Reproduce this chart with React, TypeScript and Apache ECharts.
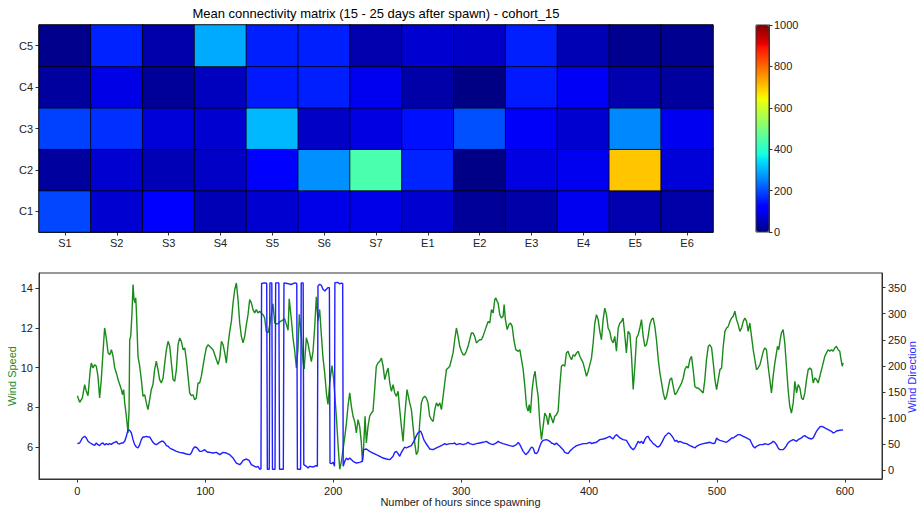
import React, { useEffect, useRef } from 'react';
import * as echarts from 'echarts';

const FONT = '"Liberation Sans", Arial, sans-serif';

// ---------- Heatmap data ----------
const sourceLabels = ['S1', 'S2', 'S3', 'S4', 'S5', 'S6', 'S7', 'E1', 'E2', 'E3', 'E4', 'E5', 'E6'];
const cohortLabels = ['C1', 'C2', 'C3', 'C4', 'C5'];
const rowC1 = [195, 70, 115, 48, 70, 90, 90, 70, 22, 35, 97, 40, 35];
const rowC2 = [27, 70, 48, 62, 115, 266, 440, 160, 7, 84, 97, 700, 77];
const rowC3 = [188, 172, 77, 70, 305, 62, 84, 141, 203, 106, 70, 258, 97];
const rowC4 = [27, 88, 22, 55, 150, 155, 97, 35, 4, 150, 103, 40, 27];
const rowC5 = [12, 158, 37, 292, 155, 155, 40, 70, 62, 155, 45, 14, 14];
const heatRows = [rowC1, rowC2, rowC3, rowC4, rowC5];
const colorbarMin = 0;
const colorbarMax = 1000;

// ---------- Wind data: [hour since spawning, value] ----------
const windSpeed: [number, number][] = [
  [0, 8.59], [1.8, 8.26], [3.9, 8.48], [5.7, 9.15], [7, 8.81], [8.3, 8.59], [10.1, 9.9], [10.9, 10.23], [12.2, 9.98], [13.5, 10.15],
  [14.8, 10.07], [16.1, 9.56], [17.4, 8.48], [18.7, 9.4], [20, 10.74], [21.3, 11.99], [22.6, 11.49], [24, 10.74], [25.3, 10.65], [26.6, 10.9],
  [27.9, 10.57], [29.2, 9.98], [30.5, 9.73], [31.8, 9.4], [33.1, 9.15], [34.4, 8.9], [35.2, 8.64], [36.2, 8.9], [37, 8.23], [38.3, 7.56],
  [39.6, 6.72], [40.4, 7.89], [40.9, 11.4], [41.7, 11.57], [42.7, 12.74], [43.5, 14.17], [44.3, 13.41], [45.1, 13.25], [45.6, 13.5], [46.1, 12.91],
  [47.4, 10.57], [48.7, 10.07], [50, 9.4], [51.3, 8.56], [52.6, 8.64], [53.9, 8.23], [55.2, 7.89], [56.5, 8.39], [57.8, 8.9], [59.1, 9.15],
  [60.4, 9.9], [61.7, 10.32], [63, 9.9], [64.3, 9.4], [65.6, 9.23], [67, 9.48], [68.3, 10.23], [69.6, 10.9], [70.9, 11.32], [72.2, 11.07],
  [73.5, 10.23], [74.8, 9.4], [76.1, 9.31], [77.4, 9.9], [78.7, 11.15], [80, 11.49], [81.3, 11.32], [82.6, 10.9], [83.9, 10.99], [85.2, 10.4],
  [86.5, 9.56], [87.8, 8.73], [89.1, 8.59], [90.4, 8.64], [91.7, 8.39], [93, 8.48], [94.3, 9.23], [95.6, 9.23], [96.9, 9.56], [98.2, 10.07],
  [99.5, 10.57], [100.8, 10.99], [102.1, 11.15],
  [103.4, 11.07], [106, 10.9], [107.4, 10.65], [108.7, 10.4], [110, 10.15], [111.3, 10.48], [112.6, 11.32], [113.9, 11.15], [115.2, 10.74], [116.5, 10.23],
  [117.8, 11.15], [119.1, 11.82], [120.4, 12.32], [121.7, 13.25], [123, 13.91], [124.3, 14.25], [125.6, 13.41], [126.9, 12.24], [128.2, 11.57], [129.5, 11.24],
  [130.8, 11.57], [132.1, 12.16], [133.4, 12.66], [134.7, 13.41], [136, 13.25], [137.3, 12.91], [138.6, 12.74], [139.9, 12.91], [141.2, 12.74], [142.5, 12.83],
  [143.8, 12.74], [145.1, 12.66], [146.4, 12.5], [147.7, 11.8], [149, 11.75], [150.4, 12.16], [151.7, 12.7], [152.9, 13.2], [154.3, 12.24], [155.6, 12.2],
  [156.9, 12.2], [158.2, 12.3], [159.5, 12.35], [160.8, 12.4], [162.1, 12.45], [163.4, 12.16], [164.7, 11.88], [165.6, 13.45], [167.3, 12.41], [168.6, 11.45],
  [169.9, 10.85], [171.2, 9.98], [172.5, 11.0], [173.5, 12.68], [175.1, 11.57], [176.4, 10.3], [177.3, 9.93], [179, 11.5], [180.3, 11.2], [181.6, 10.75],
  [182.9, 10.3], [184.2, 10.8], [185.5, 12.0], [186.8, 13.55], [188.1, 12.35], [189.4, 12.92], [190.7, 11.67], [192, 10.5], [193.4, 9.7], [194.7, 8.7],
  [195.9, 8.15], [197.3, 9.25], [199, 10.1], [200.2, 9.5], [201.2, 8.66], [202.5, 7.5], [203.8, 6.1], [205.1, 4.9], [206.4, 5.3], [207.7, 5.9],
  [209, 6.5], [210.3, 7.2], [211.6, 8.1],
  [212.9, 8.73], [214.2, 8.06], [215.5, 7.56], [216.8, 7.3], [218.1, 6.72], [219.4, 7.39], [220.7, 7.05], [222, 6.22], [222.8, 5.3], [223.8, 6.05],
  [224.9, 7.56], [225.9, 6.22], [227.2, 7.05], [228.5, 7.56], [229.8, 7.72], [231.1, 7.81], [232.4, 8.9], [233.7, 10.07], [235, 10.23], [236.4, 10.32],
  [237.7, 10.48], [239, 10.07], [240.3, 9.4], [241.6, 9.73], [242.9, 9.98], [244.2, 9.23], [245.5, 8.81], [246.8, 9.15], [248.1, 8.73], [249.4, 8.56],
  [250.7, 8.81], [252, 7.89], [253.3, 7.05], [254.6, 6.3], [255.9, 7.56], [257.2, 8.56], [257.7, 8.9], [258.5, 8.64], [259.8, 8.23], [261.1, 7.89],
  [262.4, 7.05], [263.7, 6.22], [265, 5.63], [266.3, 5.8], [267.6, 7.22], [268.9, 8.23], [270.2, 8.48], [271.5, 8.56], [272.8, 8.48], [274.1, 8.23],
  [275.4, 7.56], [276.8, 7.39], [278.1, 7.3], [279.4, 7.89], [280.7, 8.23], [282, 8.06], [283.3, 8.23], [284.6, 7.89], [285.9, 8.56], [287.2, 9.23],
  [288.5, 9.9], [289.8, 9.98], [291.1, 10.07], [292.4, 10.4], [293.7, 10.74], [295, 11.4], [296.3, 11.99], [297.6, 11.57], [298.9, 11.07], [300.2, 10.82],
  [301.5, 10.65], [302.8, 10.65], [304.1, 10.82], [305.4, 11.07], [306.7, 11.4], [308, 11.74], [309.3, 11.74], [310.6, 11.57], [311.9, 11.24], [313.2, 11.32],
  [314.5, 11.4], [315.8, 11.4], [317.1, 11.57], [318.4, 11.82], [319.7, 12.07], [321.1, 12.32], [322.4, 12.24], [323.7, 12.91], [325, 12.74],
  [326.3, 13.41], [327.1, 13.5], [328.1, 13.33], [328.9, 13.25], [330.2, 12.66], [331.5, 12.49], [332.8, 12.58], [333.6, 13.16], [334.6, 12.41], [336, 11.91],
  [337.3, 12.16], [338.6, 12.24], [339.9, 12.07], [341.2, 11.4], [342.7, 10.9], [344.6, 10.82], [345.9, 10.9], [347.2, 10.4], [348.5, 9.9], [349.8, 9.06],
  [351.1, 8.06], [352.4, 7.81], [353.2, 8.14], [354.2, 7.72], [355.5, 8.9], [356.8, 9.56], [357.8, 9.82], [358.9, 9.14], [360.2, 8.56], [361.5, 7.22],
  [362.8, 6.39], [364.1, 7.05], [365.4, 7.72], [366.7, 7.56], [368, 7.14], [369.3, 7.72], [370.6, 7.47], [371.9, 7.22], [373.2, 7.56], [374.5, 7.64],
  [375.8, 7.81], [377.1, 9.06], [378.4, 10.07], [379.7, 10.15], [381, 10.07], [382.3, 10.74], [383.6, 10.82], [384.9, 10.57], [386.3, 10.4], [387.6, 10.65],
  [388.9, 10.57], [390.2, 10.74], [391.5, 10.82], [392.8, 10.57], [394.1, 10.4], [395.4, 10.23], [396.7, 9.9], [398, 9.56], [399.3, 9.82], [400.6, 10.15],
  [401.9, 10.48], [403.2, 11.24], [404.5, 12.24], [405.8, 12.66], [407.1, 12.41], [408.4, 11.82], [409.7, 11.4], [411, 12.41], [412.3, 12.99], [413.6, 12.66],
  [414.9, 11.99], [416.2, 11.82], [417.5, 11.4], [418.8, 11.24], [420.1, 11.57], [421.4, 10.82], [422.8, 11.99], [424.1, 12.24], [425.4, 12.32], [426.6, 12.49],
  [427.9, 11.65], [429.2, 10.74], [430.5, 11.82], [431.9, 11.7],
  [433.2, 10.57], [434.5, 8.9], [435.8, 10.07], [437.1, 11.49], [438.4, 11.65], [439.7, 11.99], [441, 12.41], [442.3, 11.57], [443.6, 11.07], [444.9, 11.15],
  [446.2, 11.57], [447.5, 12.16], [448.8, 12.41], [450.1, 12.49], [451.4, 12.07], [452.7, 11.4], [454.1, 10.4], [455.4, 9.73], [456.7, 9.23], [458, 8.73],
  [459.3, 8.39], [460.6, 8.56], [461.9, 8.98], [463.2, 9.4], [464.5, 9.48], [465.8, 9.06], [467.1, 8.64], [468.4, 8.73], [469.7, 8.9], [471, 9.06],
  [472.3, 9.23], [473.6, 9.48], [474.9, 9.9], [476.2, 10.07], [477.5, 9.98], [478.8, 10.4], [480.1, 10.57], [481.4, 9.9], [482.7, 9.06], [484, 8.98],
  [485.3, 8.98], [486.6, 8.9], [487.9, 8.81], [489.2, 8.73], [490.5, 9.4], [491.8, 10.4], [493.2, 11.07], [494.4, 11.15], [495.8, 10.99], [497.1, 10.23],
  [498.4, 9.4], [499.7, 8.9], [501, 9.4], [502.3, 9.9], [503.6, 9.98], [504.9, 11.07], [506.2, 11.82], [507.5, 11.99], [508.8, 12.07], [510.1, 12.32],
  [511.4, 12.49], [512.7, 12.58], [514, 12.83], [515.3, 12.41], [516.6, 12.16], [517.9, 11.82], [519.2, 11.99], [520.5, 12.32], [521.8, 12.49], [523.1, 12.32],
  [524.4, 11.82], [525.7, 12.24], [527, 11.57], [528.3, 10.9], [529.6, 10.4], [530.9, 9.9], [532.2, 9.98], [533.6, 10.15], [534.9, 10.48], [536.2, 10.82],
  [537.4, 10.99], [538.7, 10.9], [540, 10.07], [541.3, 9.4], [542.6, 8.73], [543.9, 9.56], [545.2, 10.23], [546.5, 10.74], [547.3, 11.07], [548.3, 10.9],
  [549.4, 11.4], [550.4, 11.74], [551.7, 11.91], [553, 11.24], [554.3, 10.07], [555.6, 8.9], [556.9, 8.06], [558.2, 7.72], [559.6, 8.23], [560.9, 9.31],
  [562.2, 8.73], [563.5, 9.15], [564.8, 8.98], [566.1, 8.48], [567.4, 8.39], [568.7, 8.73], [570, 9.4], [571.3, 9.9], [572.6, 9.98], [573.9, 9.9],
  [575.2, 9.23], [576.5, 9.48], [577.8, 9.4], [579.1, 9.23], [580.4, 9.56], [581.7, 9.9], [583, 10.23], [584.3, 10.57], [585.6, 10.74], [586.9, 10.9],
  [588.2, 10.82], [589.5, 10.9], [590.8, 10.82], [592.1, 10.99], [593.4, 11.07], [594.7, 10.9], [596, 10.82], [596.8, 10.48], [597.9, 10.07], [598.6, 10.23],
];

const windDirection: [number, number][] = [
  [0, 51.1], [1.8, 52.4], [3.9, 62], [5.7, 65.2], [7, 62], [8.3, 55.6], [10.1, 52.4], [12.2, 49.2], [13.5, 47.9], [14.8, 52.4],
  [16.1, 49.2], [17.4, 47.3], [18.7, 51.1], [20, 52.4], [21.3, 48.6], [22.6, 51.1], [24, 49.2], [25.3, 51.1], [26.6, 49.8], [27.9, 52.4],
  [29.2, 53.7], [30.5, 55.6], [31.8, 51.1], [33.1, 50.5], [34.4, 52.4], [35.7, 52.4], [37, 55.6], [38.3, 65.2], [39.6, 78], [40.9, 76.7],
  [42.2, 71.6], [43.5, 58.8], [44.8, 49.2], [46.1, 44.7], [47.4, 42.8], [48.7, 49.2], [50, 58.8], [51.3, 63.9], [52.6, 63.9], [53.9, 65.2],
  [55.2, 63.9], [56.5, 63.9], [57.8, 58.8], [59.1, 53.7], [60.4, 50.5], [61.7, 49.2], [63, 51.1], [64.3, 53.7], [65.6, 55.6], [67, 55.6],
  [68.3, 52.4], [69.6, 47.3], [70.9, 46], [72.2, 42.8], [73.5, 40.9], [74.8, 39.6], [77.4, 36.4], [80, 34.5], [82.6, 33.2], [85.2, 31.3],
  [87.8, 30], [89.1, 33.2], [90.4, 40.9], [91.7, 44.7], [93, 44.1], [94.3, 40.9], [95.6, 36.4], [96.9, 36.4], [98.2, 37.7], [99.5, 39.6],
  [100.8, 36.4], [102.1, 34.5],
  [103.4, 34.5], [106, 33.2], [108.7, 34.5], [111.3, 30], [113.9, 34.5], [116.5, 33.2], [119.1, 30], [121.7, 23.6], [124.3, 14], [126.9, 10.8],
  [128.2, 14], [129.5, 19.1], [132.1, 21.7], [134.2, 19.1], [136, 10.8], [138.6, 7.6], [139.9, 6.3], [141.2, 7.6], [142.5, 2.5], [143.5, 2.5],
  [144, 358], [146, 359], [148, 358.5], [148.5, 2], [150, 2], [150.5, 359], [152, 359], [152.5, 2], [154.5, 2], [155, 359],
  [157.5, 359], [158, 2], [161, 2], [161.5, 359], [164, 358], [167, 356], [170, 359], [171.5, 358], [172, 2], [174.5, 2],
  [175, 359], [176.5, 359], [177, 10.8], [179, 7.6], [180.3, 4.4], [181.6, 7.6], [184.2, 6.3], [186.3, 8.9], [187.6, 7.6], [188.1, 353],
  [189.4, 356.4], [190.7, 354.5], [192, 346.8], [193.4, 343.6], [194.7, 346.8], [196, 350], [197, 350], [197.5, 14], [198.6, 12.7], [200, 15.3],
  [201, 8], [201.3, 359.6], [203.8, 360], [205.1, 357], [206.4, 358.5], [207.4, 358], [207.8, 7.6], [209, 17.2], [210.3, 23.6], [211.6, 20.5],
  [212.9, 23.6], [215.5, 17.2], [218.1, 14], [220.7, 15.3], [222.8, 17.2], [223.3, 28], [223.8, 39.6], [225.9, 40.9], [228.5, 36.4], [231.1, 33.2],
  [233.7, 30], [236.4, 26.8], [239, 23.6], [241.6, 21.7], [244.2, 20.5], [245.5, 23.6], [246.8, 26.8], [248.1, 34.5], [249.4, 36.4], [250.7, 31.9],
  [252, 26.8], [253.3, 34.5], [254.6, 39.6], [255.9, 44.7], [257.2, 42.8], [258.5, 44.7], [259.8, 46], [261.1, 47.3], [262.4, 52.4], [263.7, 58.8],
  [265, 66.5], [266.3, 71.6], [267.6, 74.8], [268.4, 74.8], [269.5, 68.4], [270.8, 58.8], [272.3, 52.4], [274.1, 46], [275.4, 40.9], [278.1, 39.6],
  [280.7, 42.8], [283.3, 46], [285.9, 49.2], [287.2, 51.1], [288.5, 49.2], [291.1, 51.1], [293.7, 51.1], [295, 52.4], [296.3, 49.2], [298.9, 51.1],
  [301.5, 49.2], [304.1, 51.1], [305.4, 53.7], [306.7, 51.1], [309.3, 49.2], [311.9, 51.1], [314.5, 52.4], [317.1, 53.7], [319.7, 55.6], [322.4, 51.1],
  [325, 49.2], [327.6, 52.4], [328.9, 55.6], [330.2, 53.7], [332.8, 51.1], [335.4, 49.2], [338, 47.3], [340.6, 46], [343.2, 49.2], [344.6, 53.7],
  [345.9, 49.2], [347.2, 42.8], [348.5, 36.4], [350.5, 30], [352.4, 34.5], [353.7, 39.6], [355, 44.7], [356.3, 42.8], [357.6, 33.2], [358.9, 31.9],
  [360.2, 36.4], [361.5, 46], [362.8, 53.7], [364.1, 57.5], [366.7, 58.8], [368, 57.5], [369.3, 55.6], [370.6, 52.4], [371.9, 51.1], [373.2, 49.2],
  [374.5, 52.4], [375.8, 49.2], [377.1, 46], [378.4, 42.8], [379.7, 39.6], [381, 34.5], [383.6, 31.9], [384.9, 36.4], [387.6, 42.8], [390.2, 47.3],
  [392.8, 49.2], [395.4, 51.1], [398, 51.1], [400.6, 53.7], [401.9, 51.1], [403.2, 52.4], [405.8, 53.7], [408.4, 58.8], [411, 60.1], [413.6, 62],
  [416.2, 65.2], [417.5, 62], [418.8, 60.1], [420.1, 65.2], [421.4, 68.4], [422.8, 65.2], [424.1, 62], [426.6, 58.8], [429.2, 57.5], [430.5, 52],
  [432.5, 44], [434.5, 39.6], [435.8, 42.8], [437.1, 49.2], [438.4, 55.6], [439.7, 52.4], [441, 55.6], [442.3, 51.1], [443.6, 58.8], [444.9, 63.9],
  [446.2, 65.2], [447.5, 58.8], [448.8, 55.6], [450.1, 51.1], [451.4, 49.2], [452.7, 46], [454.1, 44.7], [455.4, 47.3], [456.7, 52.4], [458, 58.8],
  [459.3, 65.2], [460.6, 68.4], [461.9, 71.6], [463.2, 70.3], [464.5, 66.5], [465.8, 62], [467.1, 55.6], [468.4, 57.5], [469.7, 53.7], [471, 55.6],
  [473.6, 52.4], [476.2, 51.1], [478.8, 47.3], [481.4, 44.7], [482.7, 42.8], [484, 46], [486.6, 49.2], [489.2, 51.1], [491.8, 52.4], [494.4, 53.7],
  [497.1, 51.1], [498.4, 52.4], [499.7, 62], [501, 58.8], [502.3, 57.5], [504.9, 55.6], [507.5, 53.7], [510.1, 58.8], [511.4, 62], [512.7, 62],
  [515.3, 66.5], [516.6, 68.4], [517.9, 68.4], [520.5, 65.2], [523.1, 62], [524.4, 60.1], [525.7, 58.8], [527, 52.4], [528.3, 46], [529.6, 42.8],
  [530.9, 46], [533.6, 49.2], [536.2, 49.2], [537.4, 51.1], [540, 49.2], [542.6, 52.4], [543.9, 55.6], [545.2, 53.7], [546.5, 49.2], [547.8, 42.8],
  [549.1, 39.6], [551.7, 39.6], [553, 42.8], [554.3, 47.3], [555.6, 52.4], [556.9, 55.6], [559.6, 58.8], [560.9, 57.5], [562.2, 55.6], [563.5, 58.8],
  [566.1, 62], [567.4, 65.2], [568.7, 66.5], [570, 63.9], [571.3, 62], [573.9, 60.1], [575.2, 62], [576.5, 68.4], [577.8, 74.8], [579.1, 79.3],
  [580.4, 83.1], [581.7, 84.4], [583, 83.1], [584.3, 81.2], [586.9, 78], [589.5, 74.8], [590.8, 71.6], [592.1, 72.9], [593.4, 75.4], [596, 76.7],
  [598.6, 77.4],
];

const hoursMin = -30;
const hoursMax = 629;
const speedMin = 4.41;
const speedMax = 14.75;
const dirMin = -16.6;
const dirMax = 378;

// jet colormap (matplotlib segment definition)
function seg(t: number, pts: number[][]) {
  for (let i = 1; i < pts.length; i++) {
    if (t <= pts[i][0]) {
      const [x0, y0] = pts[i - 1];
      const [x1, y1] = pts[i];
      return y0 + ((t - x0) / (x1 - x0)) * (y1 - y0);
    }
  }
  return pts[pts.length - 1][1];
}
function jet(t: number) {
  const r = seg(t, [[0, 0], [0.35, 0], [0.66, 1], [0.89, 1], [1, 0.5]]);
  const g = seg(t, [[0, 0], [0.125, 0], [0.375, 1], [0.64, 1], [0.91, 0], [1, 0]]);
  const b = seg(t, [[0, 0.5], [0.11, 1], [0.34, 1], [0.65, 0], [1, 0]]);
  const h = (v: number) => Math.round(v * 255).toString(16).padStart(2, '0');
  return '#' + h(r) + h(g) + h(b);
}
const jetColors: string[] = [];
for (let i = 0; i <= 200; i++) jetColors.push(jet(i / 200));

const AX = '#333';
const TXT = '#222';

export default function App() {
  const ref = useRef<HTMLDivElement>(null);
  useEffect(() => {
    const chart = echarts.init(ref.current!, null, { renderer: 'svg' });
    const heatData: number[][] = [];
    heatRows.forEach((row, r) => row.forEach((v, c) => heatData.push([c, r, v])));

    const labelStyle = { color: TXT, fontSize: 11, fontFamily: FONT };
    const tickStyle = { show: true, length: 3.5, lineStyle: { color: AX, width: 1 } };
    const lineStyleAx = { show: true, onZero: false, lineStyle: { color: AX } };
    const plain = (v: number) => String(v);

    chart.setOption({
      animation: false,
      backgroundColor: '#fff',
      textStyle: { fontFamily: FONT },
      grid: [
        { left: 39, top: 25, width: 674, height: 207, show: true, borderColor: AX, borderWidth: 1, backgroundColor: 'transparent' },
        { left: 756, top: 25, width: 13, height: 207, show: true, borderColor: AX, borderWidth: 1, backgroundColor: 'transparent', z: 5 },
        { left: 39, top: 273, width: 843, height: 206, show: true, borderColor: AX, borderWidth: 1, backgroundColor: 'transparent' },
      ],
      xAxis: [
        {
          type: 'category', gridIndex: 0, data: sourceLabels,
          axisLine: lineStyleAx,
          axisTick: { ...tickStyle, alignWithLabel: true },
          axisLabel: { ...labelStyle, margin: 5 },
          splitLine: { show: false },
        },
        { type: 'value', gridIndex: 1, show: false, min: 0, max: 1 },
        {
          type: 'value', gridIndex: 2, min: hoursMin, max: hoursMax, splitNumber: 5,
          axisLine: lineStyleAx,
          axisTick: tickStyle,
          axisLabel: { ...labelStyle, margin: 6, showMinLabel: false, showMaxLabel: false, formatter: plain },
          splitLine: { show: false },
        },
      ],
      yAxis: [
        {
          type: 'category', gridIndex: 0, data: cohortLabels,
          axisLine: lineStyleAx,
          axisTick: { ...tickStyle, alignWithLabel: true },
          axisLabel: { ...labelStyle, margin: 6 },
          splitLine: { show: false },
        },
        {
          type: 'value', gridIndex: 1, position: 'right', min: colorbarMin, max: colorbarMax, interval: 200,
          axisLine: lineStyleAx,
          axisTick: tickStyle,
          axisLabel: { ...labelStyle, margin: 5, formatter: plain },
          splitLine: { show: false },
        },
        {
          type: 'value', gridIndex: 2, position: 'left', min: speedMin, max: speedMax, splitNumber: 5,
          axisLine: lineStyleAx,
          axisTick: tickStyle,
          axisLabel: { ...labelStyle, margin: 6, showMinLabel: false, showMaxLabel: false, formatter: plain },
          splitLine: { show: false },
        },
        {
          type: 'value', gridIndex: 2, position: 'right', min: dirMin, max: dirMax, splitNumber: 8,
          axisLine: lineStyleAx,
          axisTick: tickStyle,
          axisLabel: { ...labelStyle, margin: 6, showMinLabel: false, showMaxLabel: false, formatter: plain },
          splitLine: { show: false },
        },
      ],
      visualMap: {
        type: 'continuous', seriesIndex: 0, min: colorbarMin, max: colorbarMax,
        calculable: false, orient: 'vertical', left: 756, top: 25, itemWidth: 13, itemHeight: 207,
        padding: 0, text: null, showLabel: false, hoverLink: false,
        inRange: { color: jetColors },
      },
      graphic: [
        {
          type: 'text', x: 376, y: 13,
          style: { text: 'Mean connectivity matrix (15 - 25 days after spawn) - cohort_15', fontSize: 13, fontFamily: FONT, fill: '#000', align: 'center', verticalAlign: 'middle' },
        },
        {
          type: 'text', x: 460.5, y: 502,
          style: { text: 'Number of hours since spawning', fontSize: 11, fontFamily: FONT, fill: TXT, align: 'center', verticalAlign: 'middle' },
        },
        {
          type: 'text', x: 12, y: 376, rotation: Math.PI / 2,
          style: { text: 'Wind Speed', fontSize: 11, fontFamily: FONT, fill: '#1e8c1e', align: 'center', verticalAlign: 'middle' },
        },
        {
          type: 'text', x: 912, y: 377, rotation: Math.PI / 2,
          style: { text: 'Wind Direction', fontSize: 11, fontFamily: FONT, fill: '#2b2bff', align: 'center', verticalAlign: 'middle' },
        },
      ],
      series: [
        {
          type: 'heatmap', xAxisIndex: 0, yAxisIndex: 0, data: heatData,
          itemStyle: { borderColor: '#000', borderWidth: 0.8 },
          emphasis: { disabled: true },
        },
        { type: 'line', xAxisIndex: 1, yAxisIndex: 1, data: [], silent: true },
        {
          type: 'line', xAxisIndex: 2, yAxisIndex: 2, data: windSpeed, showSymbol: false, symbol: 'none',
          lineStyle: { color: '#1a8a1a', width: 1.4 }, z: 2,
        },
        {
          type: 'line', xAxisIndex: 2, yAxisIndex: 3, data: windDirection, showSymbol: false, symbol: 'none',
          lineStyle: { color: '#1f1fff', width: 1.4 }, z: 3,
        },
      ],
    });
    return () => chart.dispose();
  }, []);
  return (
    <div
      ref={ref}
      style={{ position: 'fixed', left: 0, top: 0, width: 918, height: 513, background: '#fff' }}
    />
  );
}
